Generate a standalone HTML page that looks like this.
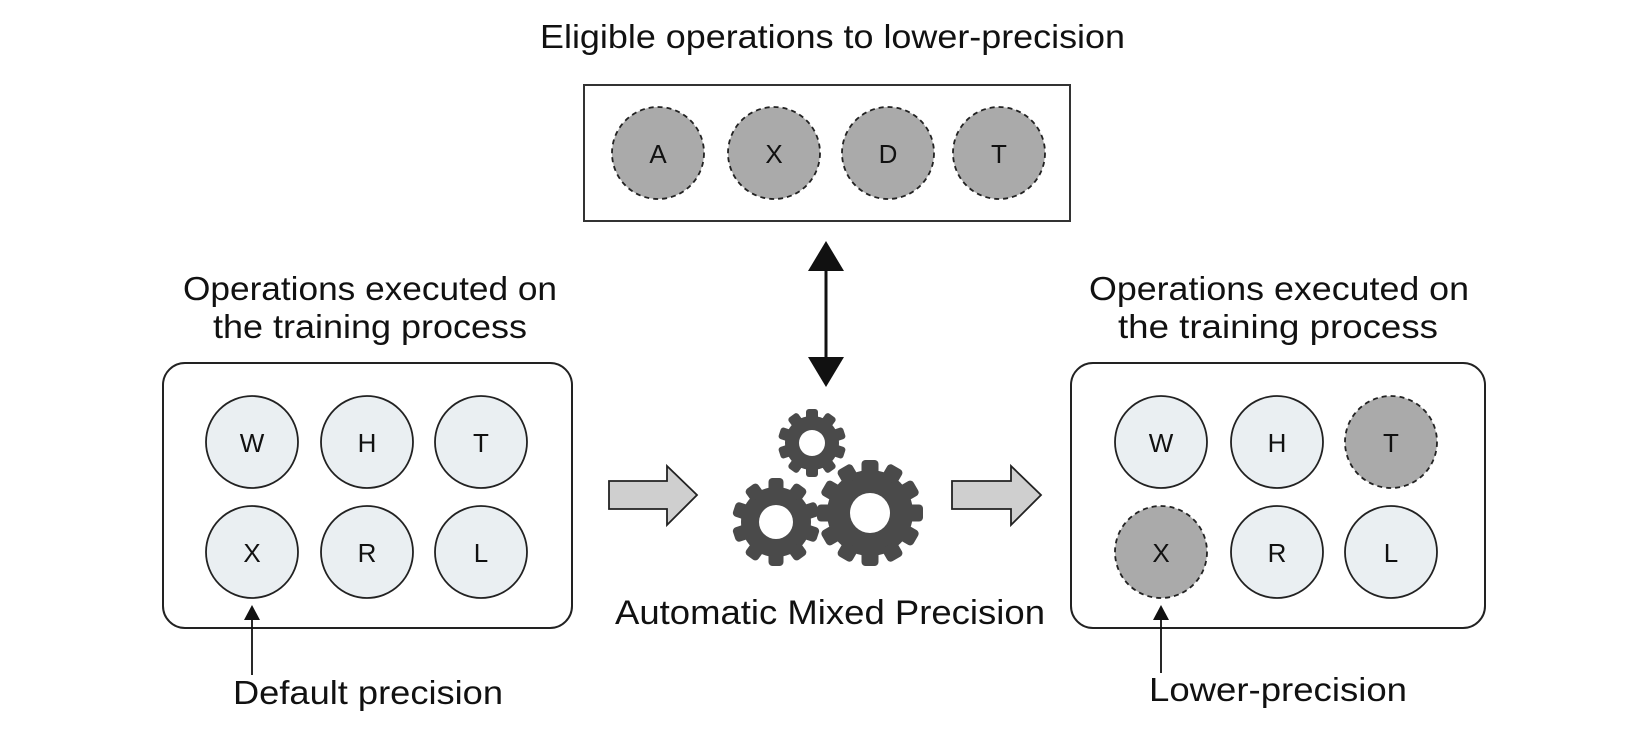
<!DOCTYPE html>
<html><head><meta charset="utf-8"><style>
html,body{margin:0;padding:0;background:#fff;}
svg{display:block;}
text{font-family:"Liberation Sans",sans-serif;fill:#111;}
</style></head><body>
<svg width="1650" height="733" viewBox="0 0 1650 733" xmlns="http://www.w3.org/2000/svg">
<text x="540" y="48" font-size="33" textLength="585" lengthAdjust="spacingAndGlyphs">Eligible operations to lower-precision</text>
<rect x="584" y="85" width="486" height="136" fill="#fff" stroke="#333" stroke-width="2"/>
<g fill="#aaaaaa" stroke="#222" stroke-width="1.8" stroke-dasharray="5,4">
<circle cx="658" cy="153" r="46"/><circle cx="774" cy="153" r="46"/><circle cx="888" cy="153" r="46"/><circle cx="999" cy="153" r="46"/>
</g>
<g font-size="26" text-anchor="middle">
<text x="658" y="163">A</text><text x="774" y="163">X</text><text x="888" y="163">D</text><text x="999" y="163">T</text>
</g>
<line x1="826" y1="265" x2="826" y2="360" stroke="#111" stroke-width="3"/>
<polygon points="826,241 808,271 844,271" fill="#111"/>
<polygon points="826,387 808,357 844,357" fill="#111"/>
<text x="183" y="300" font-size="33" textLength="374" lengthAdjust="spacingAndGlyphs">Operations executed on</text>
<text x="213" y="338" font-size="33" textLength="314" lengthAdjust="spacingAndGlyphs">the training process</text>
<g transform="translate(-6,0)">
<text x="1095" y="300" font-size="33" textLength="380" lengthAdjust="spacingAndGlyphs">Operations executed on</text>
<text x="1124" y="338" font-size="33" textLength="320" lengthAdjust="spacingAndGlyphs">the training process</text>
<rect x="1077" y="363" width="414" height="265" rx="22" fill="#fff" stroke="#222" stroke-width="2"/>
<g fill="#eaeff2" stroke="#222" stroke-width="1.8">
<circle cx="1167" cy="442" r="46"/><circle cx="1283" cy="442" r="46"/>
<circle cx="1283" cy="552" r="46"/><circle cx="1397" cy="552" r="46"/>
</g>
<g fill="#aaaaaa" stroke="#222" stroke-width="1.8" stroke-dasharray="5,4">
<circle cx="1397" cy="442" r="46"/><circle cx="1167" cy="552" r="46"/>
</g>
<g font-size="26" text-anchor="middle">
<text x="1167" y="452">W</text><text x="1283" y="452">H</text><text x="1397" y="452">T</text>
<text x="1167" y="562">X</text><text x="1283" y="562">R</text><text x="1397" y="562">L</text>
</g>
<line x1="1167" y1="610" x2="1167" y2="673" stroke="#111" stroke-width="1.8"/>
<polygon points="1167,605 1159,620 1175,620" fill="#111"/>
<text x="1155" y="701" font-size="33" textLength="258" lengthAdjust="spacingAndGlyphs">Lower-precision</text>
<polygon points="958,481 1017,481 1017,466 1047,495 1017,525 1017,509 958,509" fill="#cfcfcf" stroke="#222" stroke-width="1.8"/>
</g>
<rect x="163" y="363" width="409" height="265" rx="22" fill="#fff" stroke="#222" stroke-width="2"/>
<g fill="#eaeff2" stroke="#222" stroke-width="1.8">
<circle cx="252" cy="442" r="46"/><circle cx="367" cy="442" r="46"/><circle cx="481" cy="442" r="46"/>
<circle cx="252" cy="552" r="46"/><circle cx="367" cy="552" r="46"/><circle cx="481" cy="552" r="46"/>
</g>
<g font-size="26" text-anchor="middle">
<text x="252" y="452">W</text><text x="367" y="452">H</text><text x="481" y="452">T</text>
<text x="252" y="562">X</text><text x="367" y="562">R</text><text x="481" y="562">L</text>
</g>
<line x1="252" y1="610" x2="252" y2="675" stroke="#111" stroke-width="1.8"/>
<polygon points="252,605 244,620 260,620" fill="#111"/>
<text x="233" y="704" font-size="33" textLength="270" lengthAdjust="spacingAndGlyphs">Default precision</text>
<polygon points="609,481 667,481 667,466 697,495 667,525 667,509 609,509" fill="#cfcfcf" stroke="#222" stroke-width="1.8"/>
<g fill="#4a4a4a">
 <g transform="translate(812,443)">
  <circle r="27"/>
  <g id="t1"><rect x="-6" y="-34" width="12" height="12" rx="3"/></g>
  <use href="#t1" transform="rotate(36)"/><use href="#t1" transform="rotate(72)"/><use href="#t1" transform="rotate(108)"/><use href="#t1" transform="rotate(144)"/><use href="#t1" transform="rotate(180)"/><use href="#t1" transform="rotate(216)"/><use href="#t1" transform="rotate(252)"/><use href="#t1" transform="rotate(288)"/><use href="#t1" transform="rotate(324)"/>
  <circle r="13" fill="#fff"/>
 </g>
 <g transform="translate(776,522)">
  <circle r="35"/>
  <g id="t2"><rect x="-7.5" y="-44" width="15" height="14" rx="4"/></g>
  <use href="#t2" transform="rotate(36)"/><use href="#t2" transform="rotate(72)"/><use href="#t2" transform="rotate(108)"/><use href="#t2" transform="rotate(144)"/><use href="#t2" transform="rotate(180)"/><use href="#t2" transform="rotate(216)"/><use href="#t2" transform="rotate(252)"/><use href="#t2" transform="rotate(288)"/><use href="#t2" transform="rotate(324)"/>
  <circle r="17" fill="#fff"/>
 </g>
 <g transform="translate(870,513)">
  <circle r="43"/>
  <g id="t3"><rect x="-8.5" y="-53" width="17" height="16" rx="4"/></g>
  <use href="#t3" transform="rotate(30)"/><use href="#t3" transform="rotate(60)"/><use href="#t3" transform="rotate(90)"/><use href="#t3" transform="rotate(120)"/><use href="#t3" transform="rotate(150)"/><use href="#t3" transform="rotate(180)"/><use href="#t3" transform="rotate(210)"/><use href="#t3" transform="rotate(240)"/><use href="#t3" transform="rotate(270)"/><use href="#t3" transform="rotate(300)"/><use href="#t3" transform="rotate(330)"/>
  <circle r="20" fill="#fff"/>
 </g>
</g>
<text x="615" y="624" font-size="34" textLength="430" lengthAdjust="spacingAndGlyphs">Automatic Mixed Precision</text>
</svg>
</body></html>
